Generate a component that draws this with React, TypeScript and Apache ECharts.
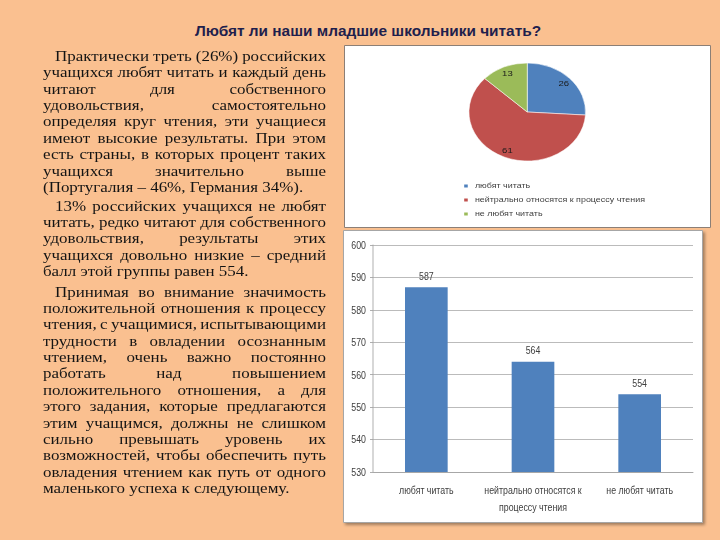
import React, { useEffect, useRef } from "react";
import * as echarts from "echarts";

const titleText = "Любят ли наши младшие школьники читать?";

const pieCategories = ["любят читать", "нейтрально относятся к процессу чтения", "не любят читать"];
const pieValues = [26, 61, 13];
const pieColors = ["#4f81bd", "#c0504d", "#9bbb59"];

const barCategories = ["любят читать", "нейтрально относятся к\nпроцессу чтения", "не любят читать"];
const barValues = [587, 564, 554];
const yMin = 530;
const yMax = 600;
const yInterval = 10;

const paragraph1 = [
  "Практически треть (26%) российских",
  "учащихся любят читать и каждый день",
  "читают для собственного",
  "удовольствия, самостоятельно",
  "определяя круг чтения, эти учащиеся",
  "имеют высокие результаты. При этом",
  "есть страны, в которых процент таких",
  "учащихся значительно выше",
  "(Португалия – 46%, Германия 34%).",
];
const paragraph2 = [
  "13% российских учащихся не любят",
  "читать, редко читают для собственного",
  "удовольствия, результаты этих",
  "учащихся довольно низкие – средний",
  "балл этой группы равен 554.",
];
const paragraph3 = [
  "Принимая во внимание значимость",
  "положительной отношения к процессу",
  "чтения, с учащимися, испытывающими",
  "трудности в овладении осознанным",
  "чтением, очень важно постоянно",
  "работать над повышением",
  "положительного отношения, а для",
  "этого задания, которые предлагаются",
  "этим учащимся, должны не слишком",
  "сильно превышать уровень их",
  "возможностей, чтобы обеспечить путь",
  "овладения чтением как путь от одного",
  "маленького успеха к следующему.",
];

const paragraphs = [
  { top: 47.8, lines: paragraph1 },
  { top: 197.5, lines: paragraph2 },
  { top: 283.5, lines: paragraph3 },
];

const sansFamily = '"Liberation Sans", Arial, sans-serif';
const LINE_H = 16.4;
const TEXT_SCALE = 1.13;
const BAR_SCALE = 0.8;
const PIE_SCALE = 1.19;

function Paragraph({ top, lines }: { top: number; lines: string[] }) {
  return (
    <div
      style={{
        position: "absolute",
        left: 43,
        top,
        width: 283 / TEXT_SCALE,
        transform: `scaleX(${TEXT_SCALE})`,
        transformOrigin: "0 0",
      }}
    >
      {lines.map((ln, i) => {
        const last = i === lines.length - 1;
        const words = ln.split(" ");
        const style: React.CSSProperties = {
          height: LINE_H,
          lineHeight: LINE_H + "px",
          paddingLeft: i === 0 ? 12 / TEXT_SCALE : 0,
          whiteSpace: "nowrap",
        };
        if (last) {
          return (
            <div key={i} style={style}>
              {ln}
            </div>
          );
        }
        return (
          <div key={i} style={{ ...style, display: "flex", justifyContent: "space-between" }}>
            {words.map((w, j) => (
              <span key={j}>{w}</span>
            ))}
          </div>
        );
      })}
    </div>
  );
}

export default function App() {
  const mainRef = useRef<HTMLDivElement>(null);
  const pieRef = useRef<HTMLDivElement>(null);
  const barRef = useRef<HTMLDivElement>(null);

  useEffect(() => {
    const main = echarts.init(mainRef.current!, null, { renderer: "svg" });
    const pie = echarts.init(pieRef.current!, null, { renderer: "svg" });
    const bar = echarts.init(barRef.current!, null, { renderer: "svg" });

    main.setOption({
      animation: false,
      graphic: [
        {
          type: "rect",
          z: -10,
          shape: { x: 344.5, y: 45.5, width: 366, height: 182 },
          style: { fill: "#ffffff", stroke: "#8c7f76", lineWidth: 1 },
        },
        {
          type: "rect",
          z: -10,
          shape: { x: 343.5, y: 230.5, width: 359, height: 292 },
          style: {
            fill: "#ffffff",
            stroke: "#a6a6a6",
            lineWidth: 1,
            shadowBlur: 3,
            shadowOffsetX: 2,
            shadowOffsetY: 2,
            shadowColor: "rgba(0,0,0,0.35)",
          },
        },
        {
          type: "text",
          x: 368,
          y: 30,
          style: {
            text: titleText,
            font: 'bold 15.4px "Liberation Sans", sans-serif',
            fill: "#1f1f4d",
            align: "center",
            verticalAlign: "middle",
          },
        },
      ],
    });

    const s = BAR_SCALE;
    bar.setOption({
      animation: false,
      grid: { left: 30 / s, right: 10 / s, top: 15, bottom: 51 },
      xAxis: {
        type: "category",
        data: barCategories,
        axisLine: { lineStyle: { color: "#a6a6a6" } },
        axisTick: { length: 5, lineStyle: { color: "#a6a6a6" } },
        axisLabel: {
          color: "#404040",
          fontSize: 11,
          fontFamily: sansFamily,
          lineHeight: 17,
          margin: 9.5,
          interval: 0,
        },
      },
      yAxis: {
        type: "value",
        min: yMin,
        max: yMax,
        interval: yInterval,
        axisLine: { show: true, lineStyle: { color: "#a6a6a6" } },
        axisTick: { show: true, length: 3 / s, lineStyle: { color: "#a6a6a6" } },
        splitLine: { lineStyle: { color: "#b3b3b3" } },
        axisLabel: { color: "#404040", fontSize: 11, fontFamily: sansFamily, margin: 7 / s },
      },
      series: [
        {
          type: "bar",
          data: barValues,
          barWidth: "40%",
          itemStyle: { color: "#4f81bd" },
          label: {
            show: true,
            position: "top",
            distance: 6,
            color: "#404040",
            fontSize: 11,
            fontFamily: sansFamily,
          },
        },
      ],
    });

    const pieData = pieCategories.map((name, i) => ({ name, value: pieValues[i] }));
    pie.setOption({
      animation: false,
      color: pieColors,
      legend: {
        orient: "vertical",
        left: 94,
        top: 132,
        itemWidth: 5,
        itemHeight: 5,
        itemGap: 6,
        icon: "rect",
        data: pieCategories,
        textStyle: { fontSize: 7.5, color: "#404040", fontFamily: sansFamily },
      },
      series: [
        {
          type: "pie",
          center: [154, 67],
          radius: [0, 49],
          startAngle: 90,
          clockwise: true,
          data: pieData,
          label: { show: false },
          labelLine: { show: false },
          itemStyle: { borderColor: "#ffffff", borderWidth: 0.5 },
          silent: true,
        },
        {
          type: "pie",
          center: [154, 67],
          radius: [29, 49],
          startAngle: 90,
          clockwise: true,
          data: pieData,
          itemStyle: { color: "rgba(0,0,0,0)" },
          label: {
            show: true,
            position: "inside",
            formatter: "{c}",
            fontSize: 8,
            color: "#1a1a1a",
            fontFamily: sansFamily,
          },
          labelLine: { show: false },
          silent: true,
        },
      ],
    });

    return () => {
      main.dispose();
      pie.dispose();
      bar.dispose();
    };
  }, []);

  return (
    <div
      style={{
        position: "absolute",
        left: 0,
        top: 0,
        width: 720,
        height: 540,
        background: "#fac090",
        overflow: "hidden",
      }}
    >
      <div ref={mainRef} style={{ position: "absolute", left: 0, top: 0, width: 720, height: 540 }} />
      <div
        ref={pieRef}
        style={{
          position: "absolute",
          left: 344,
          top: 45,
          width: 366 / PIE_SCALE,
          height: 182,
          transform: `scaleX(${PIE_SCALE})`,
          transformOrigin: "0 0",
        }}
      />
      <div
        ref={barRef}
        style={{
          position: "absolute",
          left: 343,
          top: 230,
          width: 360 / BAR_SCALE,
          height: 293,
          transform: `scaleX(${BAR_SCALE})`,
          transformOrigin: "0 0",
        }}
      />
      <div
        style={{
          position: "absolute",
          left: 0,
          top: 0,
          fontFamily: '"Liberation Serif", "Times New Roman", serif',
          fontSize: 15,
          color: "#141414",
        }}
      >
        {paragraphs.map((p, i) => (
          <Paragraph key={i} top={p.top} lines={p.lines} />
        ))}
      </div>
    </div>
  );
}
